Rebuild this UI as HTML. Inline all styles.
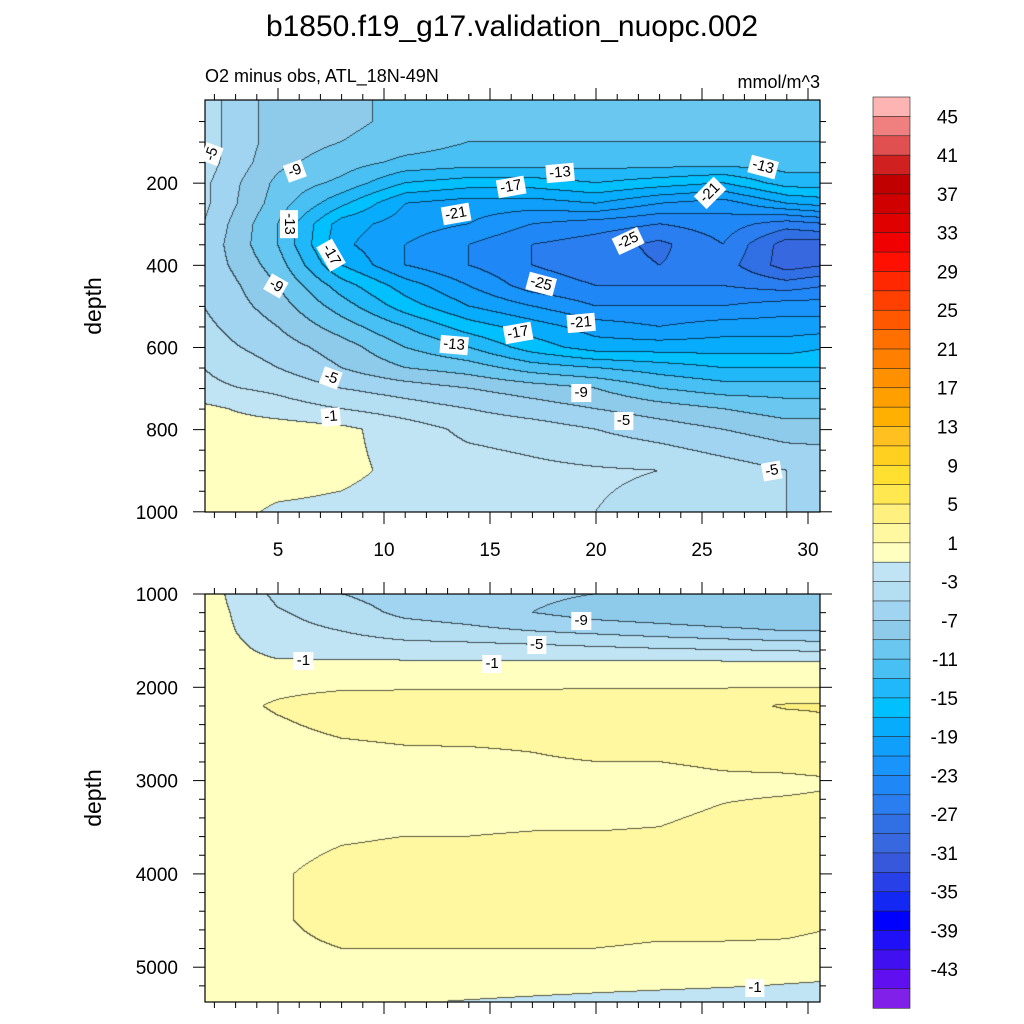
<!DOCTYPE html>
<html><head><meta charset="utf-8">
<style>
body{margin:0;background:#fff;width:1024px;height:1024px;position:relative;overflow:hidden;font-family:"Liberation Sans",sans-serif;}
canvas{position:absolute;}
svg{position:absolute;left:0;top:0;}
.lbl{position:absolute;background:#fff;font-size:15px;line-height:16px;padding:1px 3px;transform:translate(-50%,-50%);white-space:nowrap;color:#000;}
</style></head>
<body>
<canvas id="cTop" width="615" height="412" style="left:205px;top:100px"></canvas>
<canvas id="cBot" width="615" height="408" style="left:205px;top:594px"></canvas>
<svg id="ax" width="1024" height="1024"></svg>
<div id="labels"></div>
<script>
// ---- data ----
const levels=[];for(let v=-45;v<=45;v+=2)levels.push(v);
const colors=["#8020e8","#6010f0","#4010f0","#2010f8","#0000ff","#1428f4","#2840e8","#3858dc","#3868e0","#3070e4","#2a7ef0","#2088f6","#1894fa","#10a0fc","#08acfc","#00c0ff","#20b8f8","#48c0f4","#6ac8f0","#8ecbea","#a0d4f0","#b4def2","#c0e4f4","#ffffc0","#fff8a0","#fff080","#ffe850","#ffe030","#ffd020","#ffc020","#ffb000","#ffa000","#ff9000","#ff8000","#ff7000","#ff5800","#ff4000","#ff2800","#ff1000","#f00000","#e00000","#d00000","#c00000","#d02020","#e05050","#f08080","#ffb4b4"];
const xs=[1.5,5,8,11,14,17,20,23,26,29,31];
const topDepths=[0,50,100,150,200,250,300,350,400,450,500,550,600,650,700,750,800,900,1000];
const topVals=[
[-4,-8,-8.5,-9.5,-10,-9,-10,-10,-10,-10,-10],
[-4,-8,-8.5,-9.5,-10.5,-10,-11,-10,-11,-10,-10],
[-4,-8,-9,-10,-11,-11,-11,-11,-11,-11,-11],
[-4,-8.5,-10,-11.5,-12,-12,-12,-12,-12,-12,-12],
[-4.5,-9.5,-11.5,-15,-16,-16,-15,-16,-17,-14,-14],
[-4.5,-10,-14.5,-19,-20,-20,-19,-21,-22,-19,-18],
[-5,-11,-18,-20,-21,-23,-24,-25,-24,-26,-25],
[-5.5,-11,-18.5,-21,-23,-25,-26,-27.5,-25,-30,-30],
[-5.5,-10,-17,-21,-23,-25,-26,-27,-26,-30,-29],
[-5,-9,-14,-18,-21,-24,-25,-25,-25,-26,-25],
[-5,-8,-12,-16,-19,-21,-23,-23,-23,-22,-22],
[-4.5,-7,-10,-13,-16,-18,-20,-21,-20,-20,-20],
[-4,-6,-8,-11,-13,-16,-18,-18,-18,-18,-17],
[-3,-5,-7,-9,-10,-12,-13,-14,-15,-15,-15],
[-2.5,-3.5,-5,-6,-7,-8,-9,-11,-12,-12,-12],
[-0.5,-2,-3,-4,-5,-6,-7,-8,-9,-10,-10],
[0,0,-0.5,-2,-3.5,-4,-5,-6,-7,-8,-8],
[0,0,-0.5,-1.5,-2,-2.5,-2.8,-3,-4,-5,-5.5],
[0,-1.3,-1.5,-2,-2,-2.2,-3,-3.5,-4,-5,-5]];
const botDepths=[1000,1200,1400,1600,1700,1800,2000,2200,2400,2700,3000,3500,4000,4500,4800,5000,5200,5400];
const botVals=[
[0,-3.5,-5,-6,-6,-6.5,-7,-7.5,-8,-8,-8],
[0,-2.8,-4,-5.5,-6,-7,-8,-8.5,-9,-9,-9],
[0,-2.3,-3,-4,-4.5,-5,-5.5,-6,-6.5,-7,-7],
[0,-1.5,-1.8,-2,-2,-2.2,-2.5,-2.8,-3,-3.2,-3.5],
[0,-1,-1.1,-1.2,-1.2,-1.2,-1.2,-1.3,-1.4,-1.5,-1.5],
[0.3,0.4,0.4,0.3,0.3,0.3,0.3,0.3,0.3,0.4,0.5],
[0.6,0.8,0.9,0.9,0.9,0.9,0.9,0.9,0.9,0.9,0.9],
[0.6,1.1,1.4,1.5,1.6,1.7,1.8,1.9,2.4,3.2,3.2],
[0.6,0.9,1.2,1.3,1.4,1.4,1.5,1.6,1.8,2.2,2.8],
[0.5,0.6,0.8,0.9,0.9,1.0,1.1,1.1,1.2,1.3,1.4],
[0.5,0.6,0.7,0.8,0.8,0.8,0.8,0.8,0.9,0.9,0.95],
[0.5,0.6,0.8,0.9,0.9,0.95,0.95,1.0,1.1,1.2,1.2],
[0.5,0.9,1.3,1.4,1.4,1.5,1.5,1.5,1.5,1.5,1.5],
[0.5,0.9,1.3,1.4,1.4,1.4,1.4,1.3,1.3,1.2,1.1],
[0.5,0.8,1.0,1.0,1.0,1.0,1.0,0.9,0.9,0.9,0.8],
[0.4,0.6,0.7,0.6,0.5,0.5,0.4,0.3,0.2,0.1,0.0],
[0.2,0.3,0.2,0.1,0,-0.2,-0.4,-0.6,-0.8,-1.1,-1.3],
[0,0,-0.4,-1,-1.3,-1.6,-1.9,-2.2,-2.5,-2.8,-3]];
const xTicks=[5,10,15,20,25,30];
const topYTicks=[200,400,600,800,1000];
const botYTicks=[1000,2000,3000,4000,5000];
const cbLabels=[45,41,37,33,29,25,21,17,13,9,5,1,-3,-7,-11,-15,-19,-23,-27,-31,-35,-39,-43];
const topLabels=[["-5",1.9,130,-70],["-9",5.8,170,-20],["-13",5.5,300,90],["-17",7.5,375,60],["-9",4.9,450,30],["-5",7.5,675,20],["-1",7.5,770,-5],["-13",13.3,595,5],["-17",16.3,565,-10],["-21",19.3,540,-5],["-9",19.3,710,0],["-5",21.3,778,0],["-5",28.3,900,-10],["-21",13.4,275,-10],["-17",16,210,-10],["-13",18.3,175,-5],["-25",17.4,446,15],["-25",21.5,340,-25],["-21",25.4,225,-45],["-13",27.9,160,15]];
const botLabels=[["-9",19.3,1290,0],["-5",17.2,1550,0],["-1",6.2,1720,0],["-1",15.1,1750,0],["-1",27.5,5220,0]];

// ---- scales ----
const xpx=v=>193.2+(v-1)*21.2;
const topY=d=>101+d*0.4108;
const botY=d=>594+(d-1000)*0.0933;
function seg(arr,v){let i=0;while(i<arr.length-2&&v>arr[i+1])i++;let t=(v-arr[i])/(arr[i+1]-arr[i]);return [i,Math.max(0,Math.min(1,t))];}
function interp(grid,ds,x,d){const [i,ti]=seg(xs,x);const [j,tj]=seg(ds,d);
 const a=grid[j][i],b=grid[j][i+1],c=grid[j+1][i],e=grid[j+1][i+1];
 return (a*(1-ti)+b*ti)*(1-tj)+(c*(1-ti)+e*ti)*tj;}
function lev(v){let k=0;while(k<levels.length&&v>=levels[k])k++;return k;}
function hex(h){return [parseInt(h.substr(1,2),16),parseInt(h.substr(3,2),16),parseInt(h.substr(5,2),16)];}
const rgb=colors.map(hex);
function draw(id,grid,ds,x0,y0,yinv){
 const cv=document.getElementById(id),ctx=cv.getContext('2d'),W=cv.width,H=cv.height;
 const img=ctx.createImageData(W,H);const L=new Int16Array(W*H);
 for(let py=0;py<H;py++){const d=yinv(y0+py+0.5);for(let px=0;px<W;px++){const x=(x0+px+0.5-193.2)/21.2+1;L[py*W+px]=lev(interp(grid,ds,x,d));}}
 for(let p=0;p<W*H;p++){const px=p%W,py=(p/W)|0;let c=rgb[L[p]];
  let edge=(px<W-1&&L[p]!==L[p+1])||(py<H-1&&L[p]!==L[p+W]);
  if(edge)c=[c[0]*0.35,c[1]*0.35,c[2]*0.35];
  img.data[p*4]=c[0];img.data[p*4+1]=c[1];img.data[p*4+2]=c[2];img.data[p*4+3]=255;}
 ctx.putImageData(img,0,0);}
draw('cTop',topVals,topDepths,205,100,y=>(y-101)/0.4108);
draw('cBot',botVals,botDepths,205,594,y=>(y-594)/0.0933+1000);

// ---- axes ----
const svg=document.getElementById('ax');const NS='http://www.w3.org/2000/svg';
function el(tag,attrs,txt){const e=document.createElementNS(NS,tag);for(const k in attrs)e.setAttribute(k,attrs[k]);if(txt!==undefined)e.textContent=txt;svg.appendChild(e);return e;}
function ln(x1,y1,x2,y2,name){const e=el('line',{x1,y1,x2,y2,stroke:'#000','stroke-width':1});
 
 }
function panel(top,bot,yTicks,yfun,minorStep,dmin,dmax,labelX,pname){
 const r=el('rect',{x:205,y:top,width:615,height:bot-top,fill:'none',stroke:'#000','stroke-width':1.2});
 
 
 for(let v=2;v<=30;v++){const X=xpx(v);const maj=v%5===0;const len=maj?12:6;
  ln(X,bot,X,bot+len,'x-tick');ln(X,top,X,top-len,'x-tick-top');
  if(maj&&labelX){const t=el('text',{x:X,y:bot+44,'font-size':19,'text-anchor':'middle'},String(v));
   
   }}
 for(let d=dmin;d<=dmax;d+=minorStep){const Y=yfun(d);if(Y<top-0.5||Y>bot+0.5)continue;const maj=yTicks.includes(d);const len=maj?12:6;
  ln(205,Y,205-len,Y,'y-tick');ln(820,Y,820+len,Y,'y-tick-right');}
 yTicks.forEach(d=>{const t=el('text',{x:178,y:yfun(d)+7,'font-size':19,'text-anchor':'end'},String(d));
  
  });
 const yt=el('text',{x:0,y:0,'font-size':23,'text-anchor':'middle',transform:`translate(101,${(top+bot)/2}) rotate(-90)`},'depth');
 
 }
panel(100,512,topYTicks,topY,50,50,1000,true,'upper-panel');
panel(594,1002,botYTicks,botY,200,1000,5400,false,'lower-panel');
const tt=el('text',{x:512,y:36,'font-size':30,'text-anchor':'middle'},'b1850.f19_g17.validation_nuopc.002');


const st=el('text',{x:205,y:82,'font-size':18},'O2 minus obs, ATL_18N-49N');


const ut=el('text',{x:820,y:88,'font-size':18,'text-anchor':'end'},'mmol/m^3');


// colorbar
const cbTop=97,cbH=911/colors.length;
for(let k=0;k<colors.length;k++){const idx=colors.length-1-k;
 const r=el('rect',{x:873,y:cbTop+k*cbH,width:37,height:cbH+0.3,fill:colors[idx],stroke:'#222','stroke-width':0.6});
 
 }
cbLabels.forEach(v=>{const k=(45-v)/2+1;const t=el('text',{x:958,y:cbTop+k*cbH+7,'font-size':19,'text-anchor':'end'},String(v));
 
 });
// contour labels
const lc=document.getElementById('labels');
function addL(arr,yf){arr.forEach(a=>{const d=document.createElement('div');d.className='lbl';d.textContent=a[0];
 d.style.left=xpx(a[1])+'px';d.style.top=yf(a[2])+'px';d.style.transform=`translate(-50%,-50%) rotate(${a[3]}deg)`;
 
 
 lc.appendChild(d);});}
addL(topLabels,topY);addL(botLabels,botY);
</script>
</body></html>
